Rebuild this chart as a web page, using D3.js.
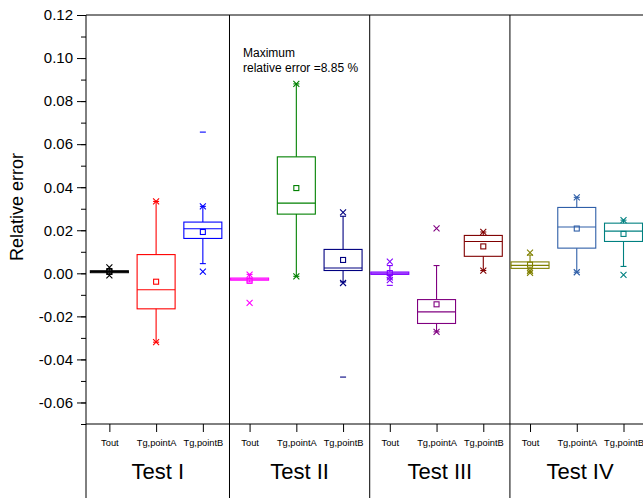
<!DOCTYPE html>
<html>
<head>
<meta charset="utf-8">
<script src="https://cdn.jsdelivr.net/npm/d3@7"></script>
<style>
  body { margin: 0; background: #fff; }
  svg { display: block; font-family: Arial, "Liberation Sans", sans-serif; }
</style>
</head>
<body>
<script>
/* Categories and groups */
var groups = ['Test I', 'Test II', 'Test III', 'Test IV'];
var series = ['Tout', 'Tg,pointA', 'Tg,pointB'];

/* One entry per box, in drawing order (group by group) */
var boxColors = ['#000000', '#ff0000', '#0000ff',
                 '#ff00ff', '#008000', '#000080',
                 '#8000ff', '#800080', '#800000',
                 '#808000', '#2f5fa8', '#008080'];
var q1 = [0.0003, -0.0165, 0.0162,
          -0.0032, 0.0275, 0.0013,
          -0.0005, -0.0233, 0.0079,
          0.0023, 0.0117, 0.0148];
var median = [0.0008, -0.0076, 0.0207,
              -0.0027, 0.0326, 0.0025,
              0.0001, -0.0179, 0.0148,
              0.0037, 0.0215, 0.0196];
var q3 = [0.0012, 0.0087, 0.0238,
          -0.0022, 0.0541, 0.0111,
          0.0006, -0.0122, 0.0176,
          0.0053, 0.0306, 0.0233];
var mean = [0.0008, -0.0039, 0.0192,
            -0.0035, 0.0396, 0.0062,
            0.0001, -0.0144, 0.0125,
            0.0040, 0.0208, 0.0183];
var whiskerLow = [-0.0005, -0.0320, 0.0045,
                  -0.0040, -0.0014, -0.0040,
                  -0.0022, -0.0272, 0.0013,
                  0.0006, 0.0005, 0.0032];
var whiskerHigh = [0.0022, 0.0334, 0.0311,
                   -0.0005, 0.0880, 0.0265,
                   0.0036, 0.0036, 0.0192,
                   0.0085, 0.0353, 0.0247];
var crosses = [[0.0028, -0.0010], [0.0334, -0.0320], [0.0311, 0.0008],
               [-0.0006, -0.0137], [0.0880, -0.0014], [0.0283, -0.0045],
               [0.0054, -0.0019, -0.0032], [0.0209, -0.0272], [0.0192, 0.0013],
               [0.0096, 0.0010, 0.0002], [0.0353, 0.0005], [0.0247, -0.0007]];
var dashes = [[], [], [0.0656],
              [], [], [-0.0482],
              [-0.0056], [], [],
              [], [], []];

var yMajor = [0.12, 0.10, 0.08, 0.06, 0.04, 0.02, 0.00, -0.02, -0.04, -0.06];

/* Page size and plot frame */
var W = 643, H = 498;
var plotLeft = 86, plotTop = 15, plotBottom = 424, step = 46.74;

var svg = d3.select('body').append('svg')
    .attr('width', W)
    .attr('height', H);

/* Scales: box index on x, relative error on y */
var x = d3.scaleLinear()
    .domain([-0.5, 12.5])
    .range([plotLeft, plotLeft + 13 * step]);
var y = d3.scaleLinear()
    .domain([-0.07, 0.12])
    .range([plotBottom, plotTop]);

/* Group boundaries (in box-index units) */
var bounds = [-0.5, 2.57, 5.57, 8.57, 11.57];

/* Y axis with minor ticks */
var minor = d3.range(-7, 13).map(function (d) { return d / 100; });
svg.append('g')
    .attr('transform', 'translate(' + plotLeft + ',0)')
    .call(d3.axisLeft(y).tickValues(minor).tickSize(5).tickFormat(''))
    .call(function (g) { g.select('.domain').remove(); });
var yAxis = svg.append('g')
    .attr('transform', 'translate(' + plotLeft + ',0)')
    .call(d3.axisLeft(y).tickValues(yMajor).tickSize(9).tickPadding(4));
yAxis.select('.domain').remove();
yAxis.selectAll('text').attr('font-size', 15).attr('fill', '#000')
    .text(function (d) { return d3.format('.2f')(d).replace('\u2212', '-'); });
svg.selectAll('.tick line').attr('stroke', '#000');

/* Frame lines */
svg.append('line').attr('x1', plotLeft).attr('x2', plotLeft)
    .attr('y1', plotTop).attr('y2', H).attr('stroke', '#000');
svg.append('line').attr('x1', plotLeft).attr('x2', W)
    .attr('y1', plotTop).attr('y2', plotTop).attr('stroke', '#000');
svg.append('line').attr('x1', plotLeft).attr('x2', W)
    .attr('y1', plotBottom).attr('y2', plotBottom).attr('stroke', '#000');
svg.selectAll('line.divider')
    .data(bounds.slice(1, 4))
    .enter().append('line')
    .attr('class', 'divider')
    .attr('x1', function (d) { return x(d); })
    .attr('x2', function (d) { return x(d); })
    .attr('y1', plotTop).attr('y2', H)
    .attr('stroke', '#000');

/* Category axis below the plot */
var idx = d3.range(groups.length * series.length);
var xAxis = svg.append('g')
    .attr('transform', 'translate(0,' + plotBottom + ')')
    .call(d3.axisBottom(x).tickValues(idx).tickSize(8).tickPadding(7)
          .tickFormat(function (d) { return series[d % series.length]; }));
xAxis.select('.domain').remove();
xAxis.selectAll('text').attr('font-size', 9.3).attr('fill', '#000');
xAxis.selectAll('line').attr('stroke', '#000');

svg.selectAll('text.group')
    .data(groups)
    .enter().append('text')
    .attr('class', 'group')
    .attr('x', function (d, i) { return (x(bounds[i]) + x(bounds[i + 1])) / 2; })
    .attr('y', 479)
    .attr('text-anchor', 'middle')
    .attr('font-size', 22)
    .text(function (d) { return d; });

/* Y title */
svg.append('text')
    .attr('transform', 'translate(23,207) rotate(-90)')
    .attr('text-anchor', 'middle')
    .attr('font-size', 18)
    .text('Relative error');

/* Annotation */
svg.append('text').attr('x', 243).attr('y', 57).attr('font-size', 12)
    .text('Maximum');
svg.append('text').attr('x', 243).attr('y', 72).attr('font-size', 12)
    .text('relative error =8.85 %');

/* Boxes */
var bw = 19, cap = 3, mk = 3;
var boxes = svg.selectAll('g.box')
    .data(idx)
    .enter().append('g')
    .attr('class', 'box')
    .attr('fill', 'none')
    .attr('stroke', function (i) { return boxColors[i]; })
    .attr('stroke-width', 1.1);

boxes.append('line')
    .attr('x1', function (i) { return x(i); }).attr('x2', function (i) { return x(i); })
    .attr('y1', function (i) { return y(whiskerHigh[i]); })
    .attr('y2', function (i) { return y(q3[i]); });
boxes.append('line')
    .attr('x1', function (i) { return x(i); }).attr('x2', function (i) { return x(i); })
    .attr('y1', function (i) { return y(q1[i]); })
    .attr('y2', function (i) { return y(whiskerLow[i]); });
[whiskerHigh, whiskerLow].forEach(function (arr) {
    boxes.append('line')
        .attr('x1', function (i) { return x(i) - cap; })
        .attr('x2', function (i) { return x(i) + cap; })
        .attr('y1', function (i) { return y(arr[i]); })
        .attr('y2', function (i) { return y(arr[i]); });
});
boxes.append('rect')
    .attr('x', function (i) { return x(i) - bw; })
    .attr('width', bw * 2)
    .attr('y', function (i) { return y(q3[i]); })
    .attr('height', function (i) { return Math.max(y(q1[i]) - y(q3[i]), 1); });
boxes.append('line')
    .attr('x1', function (i) { return x(i) - bw; })
    .attr('x2', function (i) { return x(i) + bw; })
    .attr('y1', function (i) { return y(median[i]); })
    .attr('y2', function (i) { return y(median[i]); });
boxes.append('rect')
    .attr('x', function (i) { return x(i) - 2.5; })
    .attr('y', function (i) { return y(mean[i]) - 2.5; })
    .attr('width', 5).attr('height', 5);

/* Percentile crosses and min/max dashes */
boxes.selectAll('path.cross')
    .data(function (i) { return crosses[i].map(function (v) { return [i, v]; }); })
    .enter().append('path')
    .attr('class', 'cross')
    .attr('d', function (d) {
        var cx = x(d[0]), cy = y(d[1]);
        return 'M' + (cx - mk) + ',' + (cy - mk) + 'L' + (cx + mk) + ',' + (cy + mk) +
               'M' + (cx - mk) + ',' + (cy + mk) + 'L' + (cx + mk) + ',' + (cy - mk);
    });
boxes.selectAll('line.dash')
    .data(function (i) { return dashes[i].map(function (v) { return [i, v]; }); })
    .enter().append('line')
    .attr('class', 'dash')
    .attr('x1', function (d) { return x(d[0]) - mk; })
    .attr('x2', function (d) { return x(d[0]) + mk; })
    .attr('y1', function (d) { return y(d[1]); })
    .attr('y2', function (d) { return y(d[1]); });
</script>
</body>
</html>
